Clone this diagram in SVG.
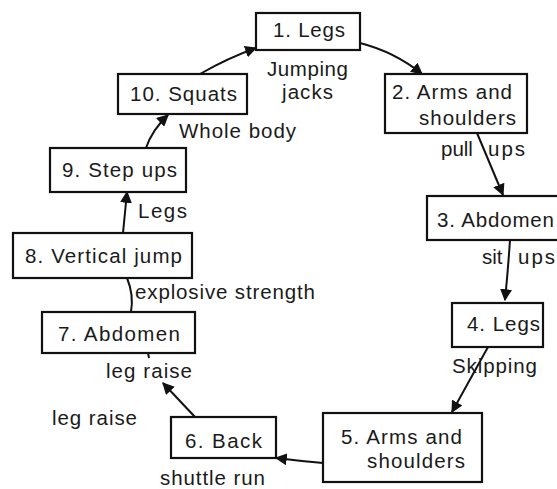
<svg xmlns="http://www.w3.org/2000/svg" width="557" height="489" viewBox="0 0 557 489">
<style>
.box{fill:#fff;stroke:#111;stroke-width:2.2}
.t{font-family:"Liberation Sans",Arial,sans-serif;font-size:20.5px;fill:#1a1a1a}
.c{fill:none;stroke:#111;stroke-width:2}
</style>
<defs>
<marker id="ah" viewBox="0 0 10 10" refX="9" refY="5" markerWidth="6" markerHeight="6" markerUnits="strokeWidth" orient="auto">
<path d="M0,0 L10,5 L0,10 z" fill="#111"/>
</marker>
</defs>
<rect width="557" height="489" fill="#fff"/>
<g id="connectors">
<path class="c" d="M200,74 Q228,58 256,48" marker-end="url(#ah)"/>
<path class="c" d="M360,43 Q395,52 422,74" marker-end="url(#ah)"/>
<path class="c" d="M477,133 L503,195" marker-end="url(#ah)"/>
<path class="c" d="M510,240 Q508,270 505,300" marker-end="url(#ah)"/>
<path class="c" d="M488,347 L452,412" marker-end="url(#ah)"/>
<path class="c" d="M323,463 Q300,461 276,458" marker-end="url(#ah)"/>
<path class="c" d="M195,417 L163,383" marker-end="url(#ah)"/>
<path class="c" d="M148,353 L149,358"/>
<path class="c" d="M131,312 Q134,295 127,278"/>
<path class="c" d="M123,233 L127,192" marker-end="url(#ah)"/>
<path class="c" d="M146,148 Q152,130 168,115" marker-end="url(#ah)"/>
</g>
<g id="n1"><rect class="box" x="256" y="13" width="104" height="37"/><text class="t" x="273" y="37" textLength="72">1. Legs</text></g>
<g id="n2"><rect class="box" x="385" y="74" width="142" height="59"/><text class="t" x="392" y="99" textLength="120">2. Arms and</text><text class="t" x="419" y="125" textLength="97">shoulders</text></g>
<g id="n3"><rect class="box" x="427" y="196" width="135" height="44"/><text class="t" x="437" y="227" textLength="117">3. Abdomen</text></g>
<g id="n4"><rect class="box" x="452" y="303" width="91" height="44"/><text class="t" x="467" y="331" textLength="73">4. Legs</text></g>
<g id="n5"><rect class="box" x="323" y="413" width="159" height="69"/><text class="t" x="341" y="444" textLength="121">5. Arms and</text><text class="t" x="367" y="468" textLength="98">shoulders</text></g>
<g id="n6"><rect class="box" x="171" y="417" width="105" height="41"/><text class="t" x="185" y="448" textLength="77">6. Back</text></g>
<g id="n7"><rect class="box" x="42" y="312" width="153" height="41"/><text class="t" x="58" y="341" textLength="122">7. Abdomen</text></g>
<g id="n8"><rect class="box" x="13" y="233" width="179" height="45"/><text class="t" x="25" y="263" textLength="157">8. Vertical jump</text></g>
<g id="n9"><rect class="box" x="50" y="148" width="136" height="44"/><text class="t" x="62" y="177" textLength="115">9. Step ups</text></g>
<g id="n10"><rect class="box" x="118" y="74" width="129" height="40"/><text class="t" x="130" y="101" textLength="107">10. Squats</text></g>
<g id="labels">
<text class="t" x="267" y="76" textLength="81">Jumping</text>
<text class="t" x="282" y="99" textLength="51">jacks</text>
<text class="t" x="441" y="156">pull <tspan x="488" textLength="37">ups</tspan></text>
<text class="t" x="482" y="264">sit <tspan x="518" textLength="37">ups</tspan></text>
<text class="t" x="452" y="373" textLength="85">Skipping</text>
<text class="t" x="160" y="485" textLength="105">shuttle run</text>
<text class="t" x="52" y="425" textLength="85">leg raise</text>
<text class="t" x="106" y="378" textLength="86">leg raise</text>
<text class="t" x="135" y="299" textLength="180">explosive strength</text>
<text class="t" x="138" y="218" textLength="49">Legs</text>
<text class="t" x="179" y="138" textLength="117">Whole body</text>
</g>
</svg>
